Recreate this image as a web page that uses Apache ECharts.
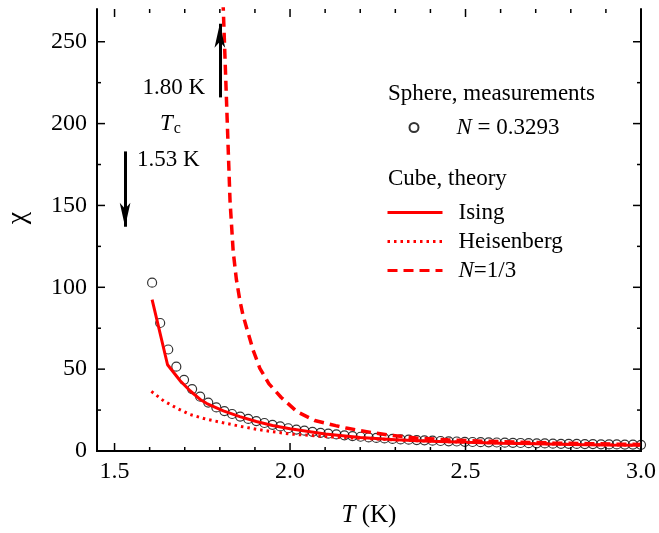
<!DOCTYPE html>
<html>
<head>
<meta charset="utf-8">
<script src="https://cdn.jsdelivr.net/npm/echarts@6/dist/echarts.min.js"></script>
<style>
  html, body { margin: 0; padding: 0; background: #fff; }
  #chart { width: 659px; height: 533px; }
</style>
</head>
<body>
<div id="chart"></div>
<script>
// sphere measurements, N = 0.3293
const measT = [1.607, 1.630, 1.653, 1.676, 1.698, 1.721, 1.744, 1.767, 1.790, 1.813, 1.835, 1.858, 1.881, 1.904, 1.927, 1.950, 1.972, 1.995, 2.018, 2.041, 2.064, 2.087, 2.109, 2.132, 2.155, 2.178, 2.201, 2.224, 2.246, 2.269, 2.292, 2.315, 2.338, 2.361, 2.383, 2.406, 2.429, 2.452, 2.475, 2.498, 2.520, 2.543, 2.566, 2.589, 2.612, 2.635, 2.657, 2.680, 2.703, 2.726, 2.749, 2.772, 2.794, 2.817, 2.840, 2.863, 2.886, 2.909, 2.931, 2.954, 2.977, 3.000];
const measChi = [102.8, 78.2, 62.0, 51.5, 43.5, 37.8, 33.2, 29.6, 26.6, 24.4, 22.6, 21.0, 19.6, 18.3, 17.1, 16.0, 15.0, 13.9, 13.1, 12.4, 11.7, 11.1, 10.6, 10.1, 9.6, 9.1, 8.7, 8.3, 8.0, 7.7, 7.4, 7.1, 6.9, 6.7, 6.5, 6.3, 6.1, 5.9, 5.8, 5.6, 5.5, 5.4, 5.3, 5.2, 5.1, 5.0, 4.9, 4.8, 4.7, 4.6, 4.5, 4.4, 4.4, 4.3, 4.2, 4.2, 4.1, 4.0, 4.0, 3.9, 3.9, 3.8];

// cube theory curves
const isingT = [1.607, 1.651, 1.687, 1.715, 1.744, 1.763, 1.81, 1.857, 1.904, 1.95, 2.0, 2.1, 2.2, 2.3, 2.4, 2.5, 2.6, 2.7, 2.8, 2.9, 3.0];
const isingChi = [92.5, 52.7, 42.9, 36.8, 31.5, 29.0, 24.5, 21.0, 18.0, 15.6, 13.6, 10.4, 8.2, 6.9, 6.0, 5.3, 4.8, 4.4, 4.0, 3.7, 3.5];

const heisT = [1.605, 1.64, 1.678, 1.715, 1.76, 1.81, 1.86, 1.904, 1.95, 2.0, 2.1, 2.2, 2.3, 2.4, 2.5, 2.6, 2.7, 2.8, 2.9, 3.0];
const heisChi = [36.4, 30.6, 26.1, 22.3, 19.5, 17.2, 15.0, 13.3, 11.8, 10.4, 8.8, 7.7, 6.8, 6.0, 5.4, 4.9, 4.5, 4.1, 3.8, 3.5];

const thirdT = [1.809, 1.819, 1.829, 1.838, 1.847, 1.857, 1.866, 1.876, 1.895, 1.914, 1.94, 1.975, 2.02, 2.07, 2.13, 2.16, 2.235, 2.28, 2.36, 2.45, 2.55, 2.65, 2.75, 2.85, 2.95, 3.0];
const thirdChi = [275, 214, 153, 122, 105, 92, 83, 75.5, 61.5, 50.5, 41, 32.7, 24, 18.6, 15.5, 14, 11.2, 9.8, 7.9, 6.8, 6.0, 5.4, 4.9, 4.5, 4.1, 4.0];

// Tc arrows: [T, chi from, chi to]
const arrowTc = [[1.80, 216, 261], [1.53, 183, 137]];

const xMajor = [1.5, 2.0, 2.5, 3.0];
const xMinor = [1.6, 1.7, 1.8, 1.9, 2.1, 2.2, 2.3, 2.4, 2.6, 2.7, 2.8, 2.9];
const yMajor = [0, 50, 100, 150, 200, 250];
const yMinor = [25, 75, 125, 175, 225];

const X_MIN = 1.45, X_MAX = 3.0, Y_MIN = 0, Y_MAX = 270;
const FONT = "Liberation Serif";
const pair = (xs, ys) => xs.map((x, i) => [x, ys[i]]);

const chart = echarts.init(document.getElementById("chart"), null, { renderer: "canvas" });

const axisLine = { show: true, lineStyle: { color: "#000", width: 2 } };
const italic = { fontStyle: "italic", fontFamily: FONT, fontSize: 23 };

// tick marks on all four sides: [value, 0 = x / 1 = y, length]
const tickData = [
  ...xMajor.map((v) => [v, 0, 8]), ...xMinor.map((v) => [v, 0, 4]),
  ...yMajor.map((v) => [v, 1, 8]), ...yMinor.map((v) => [v, 1, 4])
];

function renderTick(params, api) {
  const v = api.value(0), dir = api.value(1), len = api.value(2);
  const style = { stroke: "#000", lineWidth: 1.5 };
  if (dir === 0) {
    const b = api.coord([v, Y_MIN]), t = api.coord([v, Y_MAX]);
    return { type: "group", children: [
      { type: "line", shape: { x1: b[0], y1: b[1], x2: b[0], y2: b[1] - len }, style },
      { type: "line", shape: { x1: t[0], y1: t[1], x2: t[0], y2: t[1] + len }, style }
    ] };
  }
  const l = api.coord([X_MIN, v]), r = api.coord([X_MAX, v]);
  return { type: "group", children: [
    { type: "line", shape: { x1: l[0], y1: l[1], x2: l[0] + len, y2: l[1] }, style },
    { type: "line", shape: { x1: r[0], y1: r[1], x2: r[0] - len, y2: r[1] }, style }
  ] };
}

const red = "#ff0000";

chart.setOption({
  animation: false,
  grid: { left: 97, right: 15, top: 9, bottom: 82 },
  xAxis: [
    {
      type: "value", position: "bottom", min: X_MIN, max: X_MAX,
      axisLine, axisTick: { show: false }, splitLine: { show: false },
      axisLabel: { customValues: xMajor, formatter: (v) => v.toFixed(1), color: "#000", fontFamily: FONT, fontSize: 24, margin: 9 },
      name: "{i|T} (K)", nameLocation: "middle", nameGap: 52,
      nameTextStyle: { color: "#000", fontFamily: FONT, fontSize: 25, rich: { i: { ...italic, fontSize: 25 } } }
    },
    {
      type: "value", position: "top", min: X_MIN, max: X_MAX,
      axisLine, axisTick: { show: false }, axisLabel: { show: false }, splitLine: { show: false }
    }
  ],
  yAxis: [
    {
      type: "value", position: "left", min: Y_MIN, max: Y_MAX,
      axisLine, axisTick: { show: false }, splitLine: { show: false },
      axisLabel: { customValues: yMajor, color: "#000", fontFamily: FONT, fontSize: 24, margin: 10 }
    },
    {
      type: "value", position: "right", min: Y_MIN, max: Y_MAX,
      axisLine, axisTick: { show: false }, axisLabel: { show: false }, splitLine: { show: false }
    }
  ],
  legend: [
    {
      data: ["N = 0.3293"], orient: "vertical", left: 403.5, top: 111,
      itemWidth: 9, itemHeight: 9,
      formatter: () => "{i|N} = 0.3293",
      textStyle: { color: "#000", fontFamily: FONT, fontSize: 23, padding: [0, 0, 0, 33], rich: { i: italic } }
    },
    {
      data: ["Ising", "Heisenberg", "N=1/3"], orient: "vertical", left: 381, top: 196,
      itemWidth: 55, itemHeight: 14, itemGap: 6,
      itemStyle: { color: "rgba(0,0,0,0)", borderWidth: 0, opacity: 0 },
      lineStyle: { width: 3 },
      formatter: (n) => n === "N=1/3" ? "{i|N}=1/3" : n,
      textStyle: { color: "#000", fontFamily: FONT, fontSize: 23, lineHeight: 22, padding: [0, 0, 0, 11], rich: { i: italic } }
    }
  ],
  series: [
    {
      name: "ticks", type: "custom", renderItem: renderTick, data: tickData,
      clip: false, silent: true, z: 10
    },
    {
      name: "N = 0.3293", type: "scatter", data: pair(measT, measChi),
      symbol: "circle", symbolSize: 9, z: 2,
      itemStyle: { color: "rgba(0,0,0,0)", borderColor: "#000", borderWidth: 1.2 }
    },
    {
      name: "Ising", type: "line", data: pair(isingT, isingChi), symbol: "none", z: 3,
      itemStyle: { color: red },
      lineStyle: { color: red, width: 3 }
    },
    {
      name: "Heisenberg", type: "line", data: pair(heisT, heisChi), symbol: "none", z: 3,
      itemStyle: { color: red },
      lineStyle: { color: red, width: 3, type: [2.5, 4] }
    },
    {
      name: "N=1/3", type: "line", data: pair(thirdT, thirdChi), symbol: "none", z: 3, clip: true,
      itemStyle: { color: red },
      lineStyle: { color: red, width: 3.5, type: [10, 6] }
    },
    {
      name: "Tc", type: "line", data: [], symbol: "none",
      markLine: {
        silent: true, animation: false,
        symbol: ["none", "arrow"], symbolSize: [8, 24],
        label: { show: false },
        lineStyle: { color: "#000", width: 3, type: "solid" },
        data: arrowTc.map((a) => [{ coord: [a[0], a[1]] }, { coord: [a[0], a[2]] }])
      }
    }
  ],
  graphic: [
    { type: "text", left: 388, top: 82, style: { text: "Sphere, measurements", fill: "#000", font: "23px 'Liberation Serif'" } },
    { type: "text", left: 388, top: 167, style: { text: "Cube, theory", fill: "#000", font: "23px 'Liberation Serif'" } },
    { type: "text", right: 659 - 205, top: 76, style: { text: "1.80 K", fill: "#000", font: "23px 'Liberation Serif'" } },
    { type: "text", left: 137, top: 148, style: { text: "1.53 K", fill: "#000", font: "23px 'Liberation Serif'" } },
    {
      type: "text", left: 160, top: 112,
      style: {
        text: "{i|T}{s|c}", fill: "#000",
        rich: {
          i: italic,
          s: { fontFamily: FONT, fontSize: 16, verticalAlign: "bottom", padding: [10, 0, 0, 1] }
        }
      }
    },
    {
      type: "text", x: 18, y: 218, rotation: Math.PI / 2,
      style: { text: "χ", fill: "#000", font: "28px 'Liberation Serif'", align: "center", verticalAlign: "middle" }
    }
  ]
});
</script>
</body>
</html>
